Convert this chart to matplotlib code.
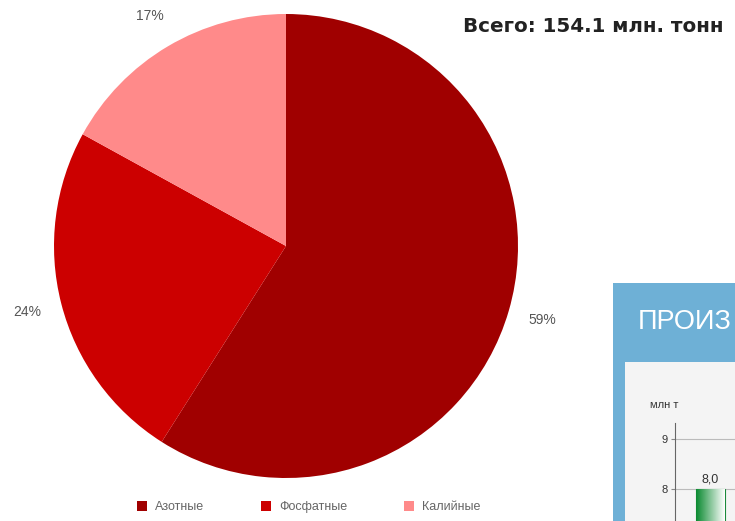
import numpy as np
import matplotlib
matplotlib.use('Agg')
import matplotlib.pyplot as plt
from matplotlib.patches import Patch

plt.rcParams['font.family'] = ['Liberation Sans', 'DejaVu Sans']

# pie data
kinds = ['Азотные', 'Фосфатные', 'Калийные']
shares = [59, 24, 17]
colors = ['#a00000', '#cc0000', '#ff8a8a']
total_text = 'Всего: 154.1 млн. тонн'

# inset bar data (only partly visible in the picture)
inset_title = 'ПРОИЗ'
bar_vals = [8.0]
bar_ticks = [8, 9]

W, H = 735, 521
fig = plt.figure(figsize=(W / 100, H / 100), dpi=100)
fig.patch.set_facecolor('white')

def box(x0, y0, x1, y1):
    # pixel box (top-left origin) -> figure fraction
    return [x0 / W, 1 - y1 / H, (x1 - x0) / W, (y1 - y0) / H]

# main pie
ax = fig.add_axes(box(54, 14, 518, 478))
wedges = ax.pie(shares, colors=colors, startangle=90, counterclock=False,
                radius=1.0, wedgeprops=dict(linewidth=0))[0]
mids = np.cumsum([0] + shares[:-1]) + np.array(shares) / 2
for s, m in zip(shares, mids):
    ang = np.deg2rad(90 - m / 100 * 360)
    r = 1.15
    ax.text(r * np.cos(ang), r * np.sin(ang), f'{s}%', ha='center', va='center',
            fontsize=10, color='#555555')
ax.set_xlim(-1, 1)
ax.set_ylim(-1, 1)
ax.set_aspect('equal')
ax.axis('off')

fig.text(463 / W, 1 - 27 / H, total_text, fontsize=14.3, fontweight='bold',
         family='DejaVu Sans', color='#222222', ha='left', va='center')

handles = [Patch(facecolor=c, edgecolor='none') for c in colors]
fig.legend(handles, kinds, loc='center', bbox_to_anchor=(0.42, 1 - 507 / H), ncol=3,
           frameon=False, fontsize=9, handlelength=0.8, handleheight=0.8,
           columnspacing=4.6, handletextpad=0.6, labelcolor='#666666')

# inset: blue frame
frame = fig.add_axes(box(613, 283, 735, 521))
frame.set_facecolor('#6eb0d6')
frame.set_xticks([])
frame.set_yticks([])
for sp in frame.spines.values():
    sp.set_visible(False)
frame.text(25 / 122, 1 - 39 / 238, inset_title, transform=frame.transAxes,
           color='white', fontsize=19.5, ha='left', va='center')

panel = fig.add_axes(box(625, 362, 735, 521))
panel.set_facecolor('#f4f4f4')
panel.set_xticks([])
panel.set_yticks([])
for sp in panel.spines.values():
    sp.set_visible(False)
panel.text(25 / 110, 1 - 43 / 159, 'млн т', transform=panel.transAxes,
           fontsize=8, color='#333333', ha='left', va='center')

bx = fig.add_axes(box(675, 423, 735, 521))
bx.patch.set_alpha(0)
bx.set_yticks(bar_ticks)
bx.set_yticklabels([str(t) for t in bar_ticks], fontsize=8, color='#333333')
bx.tick_params(axis='y', length=3, color='#888888', pad=2)
bx.set_xticks([])
for t in bar_ticks:
    bx.axhline(t, color='#bbbbbb', linewidth=0.8, zorder=0)
for k in ['top', 'right', 'bottom']:
    bx.spines[k].set_visible(False)
bx.spines['left'].set_color('#666666')
bars = bx.bar([0.59], bar_vals, width=0.48, bottom=0, color='none',
              edgecolor='#1a8a3a', linewidth=0.8)
grad = np.linspace(0, 1, 100).reshape(1, -1)
cmap = matplotlib.colors.LinearSegmentedColormap.from_list('g', ['#0a8a30', '#ffffff'])
for b, v in zip(bars, bar_vals):
    im = bx.imshow(grad, cmap=cmap, aspect='auto',
                   extent=[b.get_x(), b.get_x() + b.get_width(), 0, v], zorder=1)
    im.set_clip_path(b)
    bx.text(b.get_x() + b.get_width() / 2, v + 0.06, f'{v:.1f}'.replace('.', ','),
            ha='center', va='bottom', fontsize=9, color='#333333')
bx.set_xlim(0, 1)
bx.set_ylim(7.36, 9.32)

fig.savefig('out.png', dpi=100)
